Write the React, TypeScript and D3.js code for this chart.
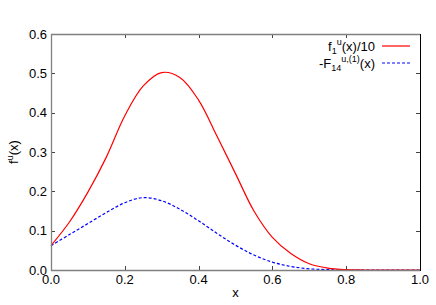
import { useEffect, useRef } from "react";
import * as d3 from "d3";

// x sampling of both curves
const xs = [0, 0.05, 0.1, 0.15, 0.2, 0.25, 0.3, 0.35, 0.4, 0.45, 0.5, 0.55, 0.6, 0.65, 0.7, 0.75, 0.8, 0.85, 0.9, 0.95, 1.0];
// f1^u(x)/10
const redValues = [0.062, 0.122, 0.198, 0.287, 0.392, 0.468, 0.502, 0.489, 0.432, 0.34, 0.245, 0.15, 0.083, 0.042, 0.016, 0.005, 0.001, 0, 0, 0, 0];
// -F14^{u,(1)}(x)
const blueValues = [0.062, 0.09, 0.118, 0.146, 0.171, 0.184, 0.176, 0.154, 0.125, 0.093, 0.063, 0.038, 0.02, 0.009, 0.003, 0.001, 0, 0, 0, 0, 0];
const xTicks = [0, 0.2, 0.4, 0.6, 0.8, 1.0];
const yTicks = [0, 0.1, 0.2, 0.3, 0.4, 0.5, 0.6];

const W = 436;
const H = 305;
const margin = { top: 34, right: 16, bottom: 35, left: 51 };
const font = "'Liberation Sans', Arial, sans-serif";

export default function App() {
  const ref = useRef<SVGSVGElement>(null);

  useEffect(() => {
    const svg = d3.select(ref.current);
    svg.selectAll("*").remove();

    const x = d3.scaleLinear().domain([0, 1]).range([margin.left, W - margin.right]);
    const y = d3.scaleLinear().domain([0, 0.6]).range([H - margin.bottom, margin.top]);
    const [x0, x1] = x.range();
    const [y0, y1] = y.range();

    // ticks on all four sides, pointing inward
    const tickLen = 4;
    const ticks = svg.append("g").attr("stroke", "#444").attr("stroke-width", 1);
    xTicks.forEach((t) => {
      const px = Math.round(x(t)) + 0.5;
      ticks.append("line").attr("x1", px).attr("x2", px).attr("y1", y0).attr("y2", y0 - tickLen);
      ticks.append("line").attr("x1", px).attr("x2", px).attr("y1", y1).attr("y2", y1 + tickLen);
    });
    yTicks.forEach((t) => {
      const py = Math.round(y(t)) + 0.5;
      ticks.append("line").attr("x1", x0).attr("x2", x0 + tickLen).attr("y1", py).attr("y2", py);
      ticks.append("line").attr("x1", x1).attr("x2", x1 - tickLen).attr("y1", py).attr("y2", py);
    });

    // tick labels
    svg.append("g")
      .selectAll("text")
      .data(xTicks)
      .enter()
      .append("text")
      .attr("x", (d) => x(d))
      .attr("y", y0 + 14)
      .attr("text-anchor", "middle")
      .attr("font-family", font)
      .attr("font-size", 13)
      .text((d) => d3.format(".1f")(d));
    svg.append("g")
      .selectAll("text")
      .data(yTicks)
      .enter()
      .append("text")
      .attr("x", x0 - 4)
      .attr("y", (d) => y(d) + 4.5)
      .attr("text-anchor", "end")
      .attr("font-family", font)
      .attr("font-size", 13)
      .text((d) => d3.format(".1f")(d));

    // curves
    const line = d3.line<number>()
      .x((_, i) => x(xs[i]))
      .y((d) => y(d))
      .curve(d3.curveCatmullRom.alpha(0.5));
    svg.append("path")
      .attr("d", line(blueValues))
      .attr("fill", "none")
      .attr("stroke", "#0000ff")
      .attr("stroke-width", 1.2)
      .attr("stroke-dasharray", "3,2");
    svg.append("path")
      .attr("d", line(redValues))
      .attr("fill", "none")
      .attr("stroke", "#ff0000")
      .attr("stroke-width", 1.2);

    // border: gray on left/top/bottom, black on right
    const border = svg.append("g").attr("fill", "none");
    border.append("path")
      .attr("d", `M${x1},${y1 + 0.5}H${x0 + 0.5}V${y0 + 0.5}H${x1}`)
      .attr("stroke", "#808080")
      .attr("stroke-width", 1.3);
    border.append("line")
      .attr("x1", x1 + 0.5).attr("x2", x1 + 0.5).attr("y1", y1).attr("y2", y0 + 1)
      .attr("stroke", "#000").attr("stroke-width", 1);

    // legend
    const leg = svg.append("g").attr("font-family", font).attr("font-size", 13);
    const t1 = leg.append("text").attr("x", 375).attr("y", 51).attr("text-anchor", "end");
    t1.append("tspan").text("f");
    t1.append("tspan").attr("font-size", 9).attr("dy", 3).text("1");
    t1.append("tspan").attr("font-size", 9).attr("dy", -9).text("u");
    t1.append("tspan").attr("dy", 6).text("(x)/10");
    const t2 = leg.append("text").attr("x", 375).attr("y", 68).attr("text-anchor", "end");
    t2.append("tspan").text("-F");
    t2.append("tspan").attr("font-size", 9).attr("dy", 3).text("14");
    t2.append("tspan").attr("font-size", 9).attr("dy", -9).text("u,(1)");
    t2.append("tspan").attr("dy", 6).text("(x)");
    leg.append("line").attr("x1", 382).attr("x2", 410).attr("y1", 46).attr("y2", 46)
      .attr("stroke", "#ff0000").attr("stroke-width", 1.2);
    leg.append("line").attr("x1", 382).attr("x2", 410).attr("y1", 63).attr("y2", 63)
      .attr("stroke", "#0000ff").attr("stroke-width", 1.2).attr("stroke-dasharray", "3,2");

    // axis titles
    svg.append("text")
      .attr("x", (x0 + x1) / 2)
      .attr("y", 297)
      .attr("text-anchor", "middle")
      .attr("font-family", font)
      .attr("font-size", 13)
      .text("x");
    const yl = svg.append("text")
      .attr("transform", `translate(18,${(y0 + y1) / 2}) rotate(-90)`)
      .attr("text-anchor", "middle")
      .attr("font-family", font)
      .attr("font-size", 13);
    yl.append("tspan").text("f");
    yl.append("tspan").attr("font-size", 9).attr("dy", -5).text("u");
    yl.append("tspan").attr("dy", 5).text("(x)");
  }, []);

  return (
    <div style={{ position: "absolute", left: 0, top: 0 }}>
      <svg ref={ref} width={W} height={H} style={{ display: "block", background: "#fff" }} />
    </div>
  );
}
